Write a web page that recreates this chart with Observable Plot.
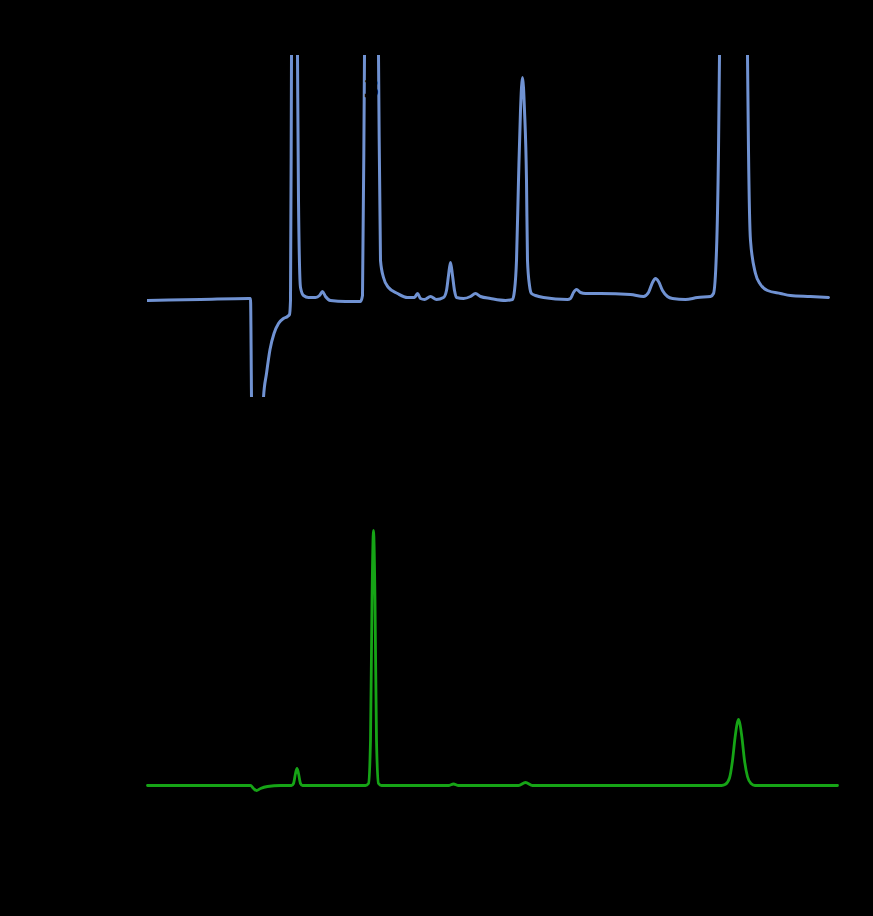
<!DOCTYPE html>
<html>
<head>
<meta charset="utf-8">
<script src="https://cdn.jsdelivr.net/npm/d3@7"></script>
<script src="https://cdn.jsdelivr.net/npm/@observablehq/plot@0.6"></script>
<style>
  html, body { margin: 0; padding: 0; background: #000; }
  #chart { width: 873px; height: 916px; background: #000; color: #000; font-family: "Liberation Sans", Arial, sans-serif; }
  #chart svg { display: block; }
</style>
</head>
<body>
<div id="chart"></div>
<script>
// Top trace (detector 1) — time (min) and signal (mV)
const timeA = [0, 2.12, 4.04, 4.12, 4.16, 4.4, 4.64, 4.76, 4.9, 5.06, 5.24, 5.44, 5.6, 5.68, 5.72, 5.76, 5.88, 6.0, 6.04, 6.12, 6.24, 6.44, 6.72, 6.88, 7.0, 7.12, 7.32, 7.92, 8.52, 8.6, 8.68, 8.96, 9.24, 9.32, 9.44, 9.64, 10.0, 10.4, 10.68, 10.8, 10.92, 11.08, 11.32, 11.56, 11.84, 11.96, 12.04, 12.12, 12.2, 12.28, 12.36, 12.64, 12.92, 13.12, 13.32, 13.72, 14.32, 14.6, 14.68, 14.76, 14.84, 14.92, 15.0, 15.08, 15.16, 15.2, 15.28, 15.36, 15.52, 15.84, 16.8, 16.92, 17.04, 17.16, 17.32, 17.52, 18.12, 19.32, 19.84, 20.04, 20.2, 20.32, 20.44, 20.6, 20.8, 21.0, 21.52, 22.0, 22.52, 22.64, 22.76, 22.84, 22.88, 23.44, 24.0, 24.04, 24.12, 24.32, 24.52, 24.8, 25.32, 25.72, 26.52, 27.24];
const signalA = [-1.5, -1, -0.5, -0.5, -50, -200, -50, -38, -26, -18, -13, -10.5, -9.5, -8.5, -1.5, 121, 400, 121, 48.5, 5, 1, 0, 0, 1, 3, 0.5, -1.5, -2, -2, 1, 121, 500, 121, 18.5, 10, 5, 2, 0, 0, 2, -0.5, -1, 0.5, -1, 0, 3.5, 11, 17.5, 11, 3.5, 0, -0.5, 0.5, 2, 0.5, -0.5, -1.5, -1, 3.5, 18.5, 58.5, 93.5, 110, 93.5, 58.5, 18.5, 6, 2, 1, 0, -1, -0.5, 2.5, 4, 2.5, 2, 2, 1.5, 0.5, 2.5, 7.5, 9.5, 8, 3.5, 0.5, -0.5, -1, 0, 0.5, 2, 23.5, 73.5, 121, 600, 121, 73.5, 28.5, 12, 6.5, 3.5, 2, 1, 0.5, 0];

// Bottom trace (detector 2) — time (min) and absorbance (mAU)
const timeB = [0, 4.12, 4.24, 4.36, 4.52, 4.8, 5.32, 5.76, 5.84, 5.92, 5.98, 6.04, 6.12, 6.2, 8.72, 8.84, 8.92, 8.98, 9.04, 9.1, 9.16, 9.24, 9.36, 12.04, 12.24, 12.44, 14.84, 15.12, 15.4, 22.96, 23.12, 23.28, 23.4, 23.5, 23.58, 23.64, 23.7, 23.78, 23.88, 24.0, 24.14, 24.3, 27.6];
const signalB = [0, 0, -1.2, -2, -1.2, -0.4, 0, 0, 0.8, 4.8, 6.8, 4.8, 0.8, 0, 0, 0.8, 18, 74, 102, 74, 18, 0.8, 0, 0, 0.6, 0, 0, 1.2, 0, 0, 0.5, 3, 10, 19, 24.5, 26.4, 24.5, 19, 10, 3.5, 0.8, 0, 0];

// Peak label
const labelTime = [8.96];
const labelSignal = [104];
const labelText = ["3"];

const xDomain = [0, 27.6];
const dataA = timeA.map((t, i) => ({t, v: signalA[i]}));
const dataB = timeB.map((t, i) => ({t, v: signalB[i]}));
const labels = labelTime.map((t, i) => ({t, v: labelSignal[i], s: labelText[i]}));

const common = {
  width: 873,
  marginLeft: 147,
  marginRight: 36,
  style: {background: "#000", color: "#000", fontSize: "14px"}
};

const chartTop = Plot.plot({
  ...common,
  height: 450,
  marginTop: 55,
  marginBottom: 53,
  x: {domain: xDomain, label: "Time (min)"},
  y: {domain: [-50, 121], label: "mV", labelAnchor: "center", labelOffset: 70},
  marks: [
    Plot.lineY(dataA, {x: "t", y: "v", stroke: "#7092d2", strokeWidth: 3, curve: "monotone-x", clip: true}),
    Plot.text(labels, {x: "t", y: "v", text: "s", fill: "#000", fontSize: 26, fontWeight: "bold"})
  ]
});

const chartBottom = Plot.plot({
  ...common,
  height: 466,
  marginTop: 30,
  marginBottom: 81,
  x: {domain: xDomain, label: "Time (min)"},
  y: {domain: [-20, 122], label: "mAU", labelAnchor: "center", labelOffset: 70},
  marks: [
    Plot.lineY(dataB, {x: "t", y: "v", stroke: "#16a416", strokeWidth: 2.8, curve: "monotone-x"})
  ]
});

const root = document.getElementById("chart");
root.appendChild(chartTop);
root.appendChild(chartBottom);
</script>
</body>
</html>
